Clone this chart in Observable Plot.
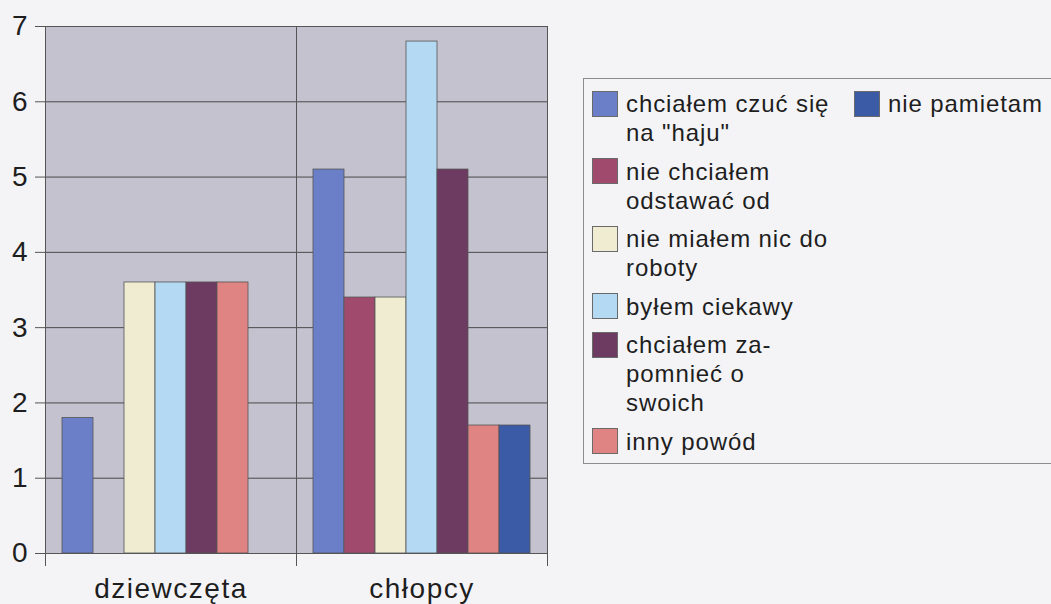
<!DOCTYPE html>
<html><head><meta charset="utf-8">
<script src="https://cdn.jsdelivr.net/npm/d3@7"></script>
<script src="https://cdn.jsdelivr.net/npm/@observablehq/plot@0.6"></script>
<style>
body{margin:0;background:#f4f4f7;font-family:"Liberation Sans",Arial,sans-serif;}
#wrap{position:relative;width:1051px;height:604px;overflow:hidden;}
#chart{position:absolute;left:0;top:0;}
#legend{position:absolute;left:583px;top:78px;width:520px;height:386px;border:1px solid #8c8c8c;box-sizing:border-box;}
.col{position:absolute;top:10px;}
.item{display:flex;align-items:flex-start;margin-bottom:9.5px;}
.sw{width:26px;height:26px;box-sizing:border-box;border:1px solid #6a6a6a;flex:none;margin-top:1.5px;margin-right:8px;}
.lbl{font-size:24px;line-height:29px;letter-spacing:0.9px;color:#1e1e1e;white-space:pre;}
[aria-label="fx-axis tick label"] text{letter-spacing:1.5px;}
</style></head>
<body>
<div id="wrap"><div id="chart"></div><div id="legend"></div></div>
<script>
const groups = ["dziewczęta", "chłopcy"];
const reasons = [
  "chciałem czuć się na \"haju\"",
  "nie chciałem odstawać od",
  "nie miałem nic do roboty",
  "byłem ciekawy",
  "chciałem za-pomnieć o swoich",
  "inny powód",
  "nie pamietam"
];
const legendLines = [
  "chciałem czuć się\nna \"haju\"",
  "nie chciałem\nodstawać od",
  "nie miałem nic do\nroboty",
  "byłem ciekawy",
  "chciałem za-\npomnieć o\nswoich",
  "inny powód",
  "nie pamietam"
];
const girlsValues = [1.8, 0, 3.6, 3.6, 3.6, 3.6, 0];
const boysValues = [5.1, 3.4, 3.4, 6.8, 5.1, 1.7, 1.7];
const colors = ["#6b7fc9", "#a04b6d", "#efecd2", "#b4d9f3", "#6d3a62", "#df8383", "#3b5ba6"];
const yTicks = [0, 1, 2, 3, 4, 5, 6, 7];

const rows = [];
reasons.forEach((r, i) => {
  rows.push({group: groups[0], reason: r, value: girlsValues[i]});
  rows.push({group: groups[1], reason: r, value: boysValues[i]});
});

const chart = Plot.plot({
  width: 560, height: 604,
  marginLeft: 45, marginRight: 13, marginTop: 26, marginBottom: 51,
  style: {background: "transparent", fontFamily: "Liberation Sans, Arial, sans-serif", color: "#1e1e1e", overflow: "visible"},
  fx: {domain: groups, padding: 0, label: null},
  x: {domain: reasons, paddingInner: 0, paddingOuter: 0.5, axis: null},
  y: {domain: [0, 7], label: null},
  color: {domain: reasons, range: colors},
  marks: [
    Plot.frame({fill: "#c3c2ce"}),
    Plot.gridY(yTicks, {stroke: "#4a4a4a", strokeOpacity: 1}),
    Plot.axisY(yTicks, {tickSize: 10, tickPadding: 8, fontSize: 28, stroke: "#555", tickFormat: "d", label: null}),
    Plot.axisFx({anchor: "bottom", tickSize: 0, tickPadding: 25, fontSize: 28, label: null}),
    Plot.barY(rows, {filter: d => d.value > 0, fx: "group", x: "reason", y: "value", fill: "reason", stroke: "#555", strokeWidth: 0.8}),
    Plot.frame({stroke: "#555"}),
    Plot.frame({anchor: "left", insetBottom: -12, stroke: "#555"}),
    Plot.frame({anchor: "right", insetBottom: -12, stroke: "#555"})
  ]
});
document.getElementById("chart").append(chart);

const legend = document.getElementById("legend");
const cols = [{left: 8, idx: [0,1,2,3,4,5]}, {left: 270, idx: [6]}];
cols.forEach(c => {
  const col = document.createElement("div");
  col.className = "col";
  col.style.left = c.left + "px";
  c.idx.forEach(i => {
    const it = document.createElement("div");
    it.className = "item";
    const sw = document.createElement("div");
    sw.className = "sw";
    sw.style.background = colors[i];
    const lb = document.createElement("div");
    lb.className = "lbl";
    lb.textContent = legendLines[i];
    it.append(sw, lb);
    col.append(it);
  });
  legend.append(col);
});
</script>
</body></html>
